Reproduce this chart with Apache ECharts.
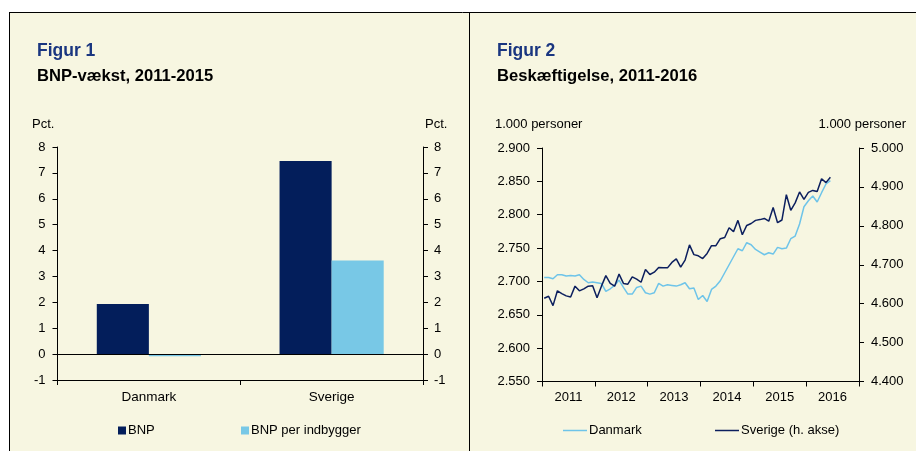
<!DOCTYPE html>
<html>
<head>
<meta charset="utf-8">
<script src="https://cdn.jsdelivr.net/npm/echarts@6/dist/echarts.min.js"></script>
<style>
  html, body { margin: 0; padding: 0; background: #fff; }
  #chart { width: 916px; height: 451px; }
</style>
</head>
<body>
<div id="chart"></div>
<script>
// Figur 1 - BNP-vækst 2011-2015 (pct.)
const countries = ['Danmark', 'Sverige'];
const bnp = [1.94, 7.46];
const bnpPerCapita = [-0.08, 3.62];

// Figur 2 - beskæftigelse, månedlig jan 2011 - jun 2016 (1.000 personer)
const years = ['2011', '2012', '2013', '2014', '2015', '2016'];
const danmark = [
  2706, 2706, 2704, 2710, 2710, 2708, 2709, 2708, 2710, 2703, 2698, 2699,
  2698, 2697, 2685, 2689, 2694, 2702, 2691, 2681, 2681, 2691, 2693, 2683,
  2681, 2683, 2697, 2693, 2695, 2694, 2693, 2695, 2698, 2689, 2690, 2673,
  2679, 2670, 2688, 2693, 2701, 2713, 2725, 2737, 2749, 2746, 2758, 2755,
  2748, 2744, 2740, 2743, 2741, 2751, 2749, 2750, 2764, 2768, 2786, 2812,
  2821, 2828, 2819, 2833, 2846, 2851
];
const sverige = [
  4614, 4619, 4595, 4633, 4626, 4620, 4617, 4645, 4633, 4638, 4645, 4646,
  4615, 4645, 4672, 4652, 4645, 4676, 4652, 4650, 4669, 4663, 4655, 4688,
  4675, 4681, 4693, 4692, 4692, 4706, 4715, 4694, 4712, 4751, 4726, 4723,
  4716, 4729, 4749, 4749, 4767, 4770, 4795, 4785, 4814, 4777, 4801, 4806,
  4814, 4816, 4819, 4812, 4847, 4808, 4815, 4880, 4840, 4859, 4887, 4868,
  4886, 4891, 4888, 4921, 4911, 4925
];

const FONT = '"Liberation Sans", Arial, sans-serif';
const NAVY = '#031e5b';
const LIGHT = '#78c8e6';
const CREAM = '#f7f6e1';

const chart = echarts.init(document.getElementById('chart'), null, { renderer: 'canvas' });

// tal med punktum som tusindtalsseparator
const thousands = v => (v / 1000).toFixed(3);

const axisLine = { show: true, lineStyle: { color: '#000', width: 1 } };
const axisTick = { show: true, length: 5, lineStyle: { color: '#000', width: 1 } };
const labelStyle = { color: '#000', fontFamily: FONT, fontSize: 13 };

function txt(text, x, y, opts) {
  return Object.assign({
    type: 'text',
    x: x,
    y: y,
    silent: true,
    style: {
      text: text,
      fill: '#000',
      font: '13px ' + FONT,
      align: 'left',
      textAlign: 'left',
      verticalAlign: 'middle',
      textVerticalAlign: 'middle'
    }
  }, opts || {});
}

function legend(name, left, w, h) {
  return {
    data: [name],
    left: left,
    top: 424,
    padding: 0,
    icon: 'rect',
    itemWidth: w,
    itemHeight: h,
    selectedMode: false,
    textStyle: { color: '#000', fontFamily: FONT, fontSize: 13, padding: [0, 0, 0, -3] }
  };
}

const option = {
  animation: false,
  backgroundColor: '#fff',
  graphic: [
    { type: 'rect', z: -10, silent: true, shape: { x: 10, y: 13, width: 906, height: 438 }, style: { fill: CREAM } },
    { type: 'line', silent: true, shape: { x1: 9, y1: 12.5, x2: 916, y2: 12.5 }, style: { stroke: '#000', lineWidth: 1 } },
    { type: 'line', silent: true, shape: { x1: 9.5, y1: 12, x2: 9.5, y2: 451 }, style: { stroke: '#000', lineWidth: 1 } },
    { type: 'line', silent: true, shape: { x1: 469.5, y1: 12, x2: 469.5, y2: 451 }, style: { stroke: '#000', lineWidth: 1 } },

    txt('Figur 1', 37, 51, { style: { text: 'Figur 1', fill: '#1a3680', font: 'bold 17.5px ' + FONT, align: 'left', verticalAlign: 'middle' } }),
    txt('BNP-vækst, 2011-2015', 37, 76.5, { style: { text: 'BNP-vækst, 2011-2015', fill: '#000', font: 'bold 16.6px ' + FONT, align: 'left', verticalAlign: 'middle' } }),
    txt('Figur 2', 497, 51, { style: { text: 'Figur 2', fill: '#1a3680', font: 'bold 17.5px ' + FONT, align: 'left', verticalAlign: 'middle' } }),
    txt('Beskæftigelse, 2011-2016', 497, 76.5, { style: { text: 'Beskæftigelse, 2011-2016', fill: '#000', font: 'bold 16.6px ' + FONT, align: 'left', verticalAlign: 'middle' } }),

    txt('Pct.', 32, 124),
    txt('Pct.', 425, 124),
    txt('1.000 personer', 495, 124),
    txt('1.000 personer', 906, 124, { style: { text: '1.000 personer', fill: '#000', font: '13px ' + FONT, align: 'right', verticalAlign: 'middle' } })
  ],
  grid: [
    { left: 57.5, top: 147, width: 365.5, height: 233 },
    { left: 542, top: 148, width: 317, height: 233.5 }
  ],
  legend: [
    legend('BNP', 118, 8, 8),
    legend('BNP per indbygger', 241, 8, 8),
    legend('Danmark', 563, 24, 1.5),
    legend('Sverige (h. akse)', 715, 24, 1.5)
  ],
  xAxis: [
    {
      gridIndex: 0, type: 'category', data: countries, position: 'bottom',
      axisLine: Object.assign({ onZero: false }, axisLine), axisTick: axisTick,
      axisLabel: Object.assign({ margin: 10 }, labelStyle, { fontSize: 13.5 }), splitLine: { show: false }
    },
    {
      gridIndex: 1, type: 'category', data: years, boundaryGap: true, position: 'bottom',
      axisLine: Object.assign({ onZero: false }, axisLine), axisTick: axisTick,
      axisLabel: Object.assign({ margin: 9 }, labelStyle), splitLine: { show: false }
    },
    // skjult måneds-akse til linjerne (0 = jan 2011, 72 = ultimo 2016)
    { gridIndex: 1, type: 'value', min: 0, max: 72, show: false }
  ],
  yAxis: [
    {
      gridIndex: 0, type: 'value', position: 'left', min: -1, max: 8, interval: 1,
      axisLine: axisLine, axisTick: axisTick, splitLine: { show: false },
      axisLabel: Object.assign({ margin: 12 }, labelStyle)
    },
    {
      gridIndex: 0, type: 'value', position: 'right', min: -1, max: 8, interval: 1,
      axisLine: axisLine, axisTick: axisTick, splitLine: { show: false },
      axisLabel: Object.assign({ margin: 11 }, labelStyle)
    },
    {
      gridIndex: 1, type: 'value', position: 'left', min: 2550, max: 2900, interval: 50,
      axisLine: axisLine, axisTick: axisTick, splitLine: { show: false },
      axisLabel: Object.assign({ margin: 12, formatter: thousands }, labelStyle)
    },
    {
      gridIndex: 1, type: 'value', position: 'right', min: 4400, max: 5000, interval: 100,
      axisLine: axisLine, axisTick: axisTick, splitLine: { show: false },
      axisLabel: Object.assign({ margin: 12, formatter: thousands }, labelStyle)
    }
  ],
  series: [
    {
      name: 'BNP', type: 'bar', xAxisIndex: 0, yAxisIndex: 0,
      data: bnp, barGap: '0%', barCategoryGap: '43%',
      itemStyle: { color: NAVY },
      markLine: {
        silent: true, symbol: 'none', label: { show: false },
        lineStyle: { color: '#000', width: 1, type: 'solid' },
        data: [{ yAxis: 0 }]
      }
    },
    {
      name: 'BNP per indbygger', type: 'bar', xAxisIndex: 0, yAxisIndex: 0,
      data: bnpPerCapita, barGap: '0%', barCategoryGap: '43%',
      itemStyle: { color: LIGHT }
    },
    {
      name: 'Danmark', type: 'line', xAxisIndex: 2, yAxisIndex: 2,
      data: danmark.map((v, i) => [i + 0.5, v]),
      symbol: 'none', showSymbol: false,
      itemStyle: { color: '#6ec4e9' },
      lineStyle: { color: '#6ec4e9', width: 1.5 }
    },
    {
      name: 'Sverige (h. akse)', type: 'line', xAxisIndex: 2, yAxisIndex: 3,
      data: sverige.map((v, i) => [i + 0.5, v]),
      symbol: 'none', showSymbol: false,
      itemStyle: { color: '#0c1f5e' },
      lineStyle: { color: '#0c1f5e', width: 1.5 }
    }
  ]
};

chart.setOption(option);
</script>
</body>
</html>
